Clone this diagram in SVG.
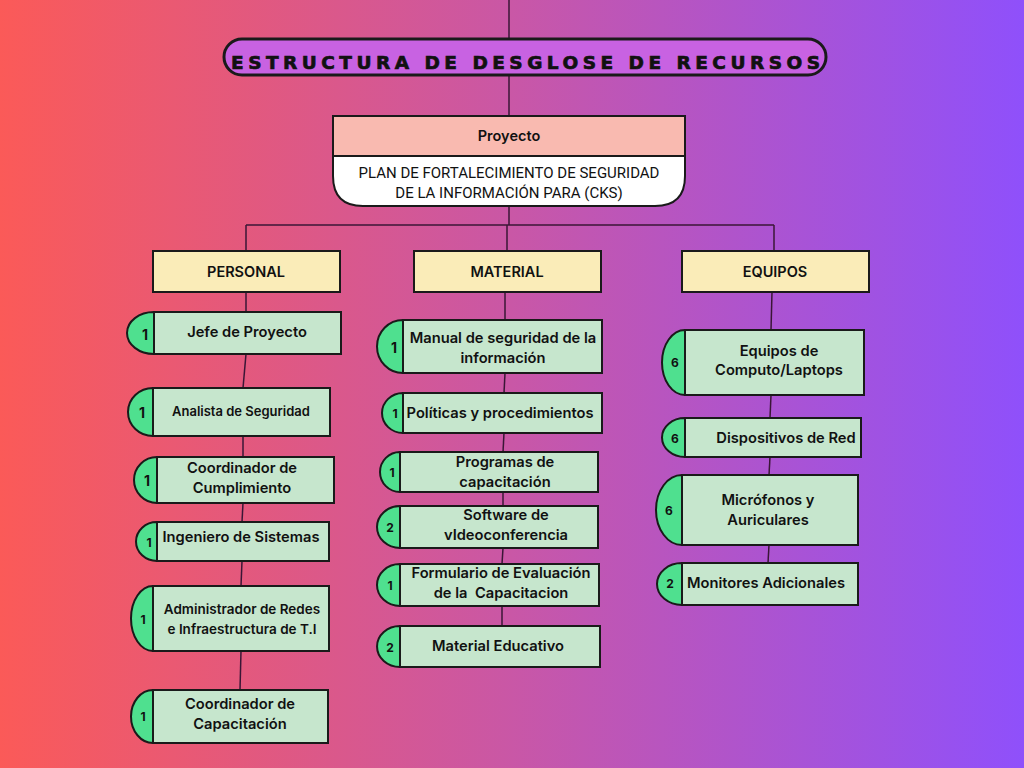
<svg xmlns="http://www.w3.org/2000/svg" width="1024" height="768" viewBox="0 0 1024 768">
  <defs>
    <linearGradient id="bg" x1="0" y1="0" x2="1" y2="0">
      <stop offset="0" stop-color="#fb5a58"/>
      <stop offset="0.5" stop-color="#c957a6"/>
      <stop offset="1" stop-color="#8f50fb"/>
    </linearGradient>
    <style>
      .ln { stroke: #3a1636; stroke-width: 1.5; fill: none; }
      .cat { fill: #faecb8; stroke: #1a1a1a; stroke-width: 2; }
      .item { fill: #c6e6cd; stroke: #1a1a1a; stroke-width: 2; }
      .tab { fill: #4fe08f; stroke: #1a1a1a; stroke-width: 2; }
      .t { font-family: Inter, "Liberation Sans", sans-serif; font-weight: 600; font-size: 14.7px; fill: #111; text-anchor: middle; dominant-baseline: central; }
      .n { font-family: Inter, "Liberation Sans", sans-serif; font-weight: 700; font-size: 14px; fill: #111; text-anchor: middle; dominant-baseline: central; }
      .cap { font-family: Inter, "Liberation Sans", sans-serif; font-weight: 600; font-size: 14.5px; fill: #111; text-anchor: middle; dominant-baseline: central; }
      .plan { font-family: Roboto, "Liberation Sans", sans-serif; font-size: 15px; fill: #111; text-anchor: middle; dominant-baseline: central; }
    </style>
  </defs>

  <rect x="0" y="0" width="1024" height="768" fill="url(#bg)"/>

  <!-- connectors -->
  <g id="connectors" class="ln">
    <line x1="509" y1="0" x2="509" y2="116"/>
    <line x1="509" y1="206" x2="509" y2="225"/>
    <line x1="246" y1="225" x2="774" y2="225"/>
    <line x1="246" y1="225" x2="246" y2="251"/>
    <line x1="507" y1="225" x2="507" y2="251"/>
    <line x1="774" y1="225" x2="774" y2="251"/>
    <!-- personal column -->
    <line x1="246" y1="292" x2="246" y2="312"/>
    <line x1="246" y1="354" x2="243" y2="388"/>
    <line x1="243" y1="436" x2="243" y2="457"/>
    <line x1="243" y1="503" x2="242" y2="522"/>
    <line x1="242" y1="561" x2="241" y2="586"/>
    <line x1="241" y1="651" x2="240" y2="690"/>
    <!-- material column -->
    <line x1="505" y1="292" x2="505" y2="320"/>
    <line x1="505" y1="373" x2="504" y2="393"/>
    <line x1="504" y1="433" x2="503" y2="452"/>
    <line x1="503" y1="492" x2="503" y2="506"/>
    <line x1="503" y1="548" x2="502" y2="564"/>
    <line x1="502" y1="606" x2="502" y2="626"/>
    <!-- equipos column -->
    <line x1="772" y1="292" x2="771" y2="330"/>
    <line x1="771" y1="395" x2="770" y2="418"/>
    <line x1="770" y1="457" x2="769" y2="475"/>
    <line x1="769" y1="545" x2="768" y2="563"/>
  </g>

  <!-- title -->
  <g id="title">
    <rect x="224" y="39" width="602" height="36" rx="18" fill="#c862e2" stroke="#1a1a1a" stroke-width="3"/>
    <text x="231" y="62" textLength="589" lengthAdjust="spacing" font-family="'DejaVu Sans', 'Liberation Sans', sans-serif" font-weight="900" font-size="18.5" fill="#111" stroke="#111" stroke-width="0.7" dominant-baseline="central">ESTRUCTURA DE DESGLOSE DE RECURSOS</text>
  </g>

  <!-- project -->
  <g id="proyecto">
    <path d="M333,156 L685,156 L685,176 Q685,206 655,206 L363,206 Q333,206 333,176 Z" fill="#ffffff" stroke="#1a1a1a" stroke-width="2"/>
    <rect x="333" y="116" width="352" height="40" fill="#f9bab0" stroke="#1a1a1a" stroke-width="2"/>
    <text class="cap" x="509" y="135">Proyecto</text>
    <text class="plan" x="509" y="173">PLAN DE FORTALECIMIENTO DE SEGURIDAD</text>
    <text class="plan" x="509" y="193">DE LA INFORMACIÓN PARA (CKS)</text>
  </g>

  <!-- categories -->
  <g id="cat-personal">
    <rect class="cat" x="153" y="251" width="187" height="41"/>
    <text class="cap" x="246" y="271">PERSONAL</text>
  </g>
  <g id="cat-material">
    <rect class="cat" x="414" y="251" width="187" height="41"/>
    <text class="cap" x="507" y="271">MATERIAL</text>
  </g>
  <g id="cat-equipos">
    <rect class="cat" x="682" y="251" width="187" height="41"/>
    <text class="cap" x="775" y="271">EQUIPOS</text>
  </g>

  <!-- personal items -->
  <g id="p1">
    <path class="tab" d="M154,312 A27,21 0 0 0 154,354 Z"/>
    <rect class="item" x="154" y="312" width="187" height="42"/>
    <text class="n" x="145" y="334">1</text>
    <text class="t" x="247" y="332">Jefe de Proyecto</text>
  </g>
  <g id="p2">
    <path class="tab" d="M153,388 A25,24 0 0 0 153,436 Z"/>
    <rect class="item" x="153" y="388" width="177" height="48"/>
    <text class="n" x="142" y="412">1</text>
    <text class="t" x="241" y="411" style="font-size:13px">Analista de Seguridad</text>
  </g>
  <g id="p3">
    <path class="tab" d="M157,457 A23,23 0 0 0 157,503 Z"/>
    <rect class="item" x="157" y="457" width="177" height="46"/>
    <text class="n" x="147" y="480">1</text>
    <text class="t" x="242" y="468">Coordinador de</text>
    <text class="t" x="242" y="488">Cumplimiento</text>
  </g>
  <g id="p4">
    <path class="tab" d="M157,522 A21,19.5 0 0 0 157,561 Z"/>
    <rect class="item" x="157" y="522" width="172" height="39"/>
    <text class="n" x="149" y="542" style="font-size:12px">1</text>
    <text class="t" x="241" y="537">Ingeniero de Sistemas</text>
  </g>
  <g id="p5">
    <path class="tab" d="M153,586 A22,32.5 0 0 0 153,651 Z"/>
    <rect class="item" x="153" y="586" width="176" height="65"/>
    <text class="n" x="143" y="619" style="font-size:12px">1</text>
    <text class="t" x="242" y="609" style="font-size:13.5px">Administrador de Redes</text>
    <text class="t" x="242" y="629" style="font-size:13.5px">e Infraestructura de T.I</text>
  </g>
  <g id="p6">
    <path class="tab" d="M153,690 A22,26.5 0 0 0 153,743 Z"/>
    <rect class="item" x="153" y="690" width="175" height="53"/>
    <text class="n" x="143" y="716" style="font-size:12px">1</text>
    <text class="t" x="240" y="704">Coordinador de</text>
    <text class="t" x="240" y="724">Capacitación</text>
  </g>

  <!-- material items -->
  <g id="m1">
    <path class="tab" d="M403,320 A26,26.5 0 0 0 403,373 Z"/>
    <rect class="item" x="403" y="320" width="199" height="53"/>
    <text class="n" x="394" y="347">1</text>
    <text class="t" x="503" y="338">Manual de seguridad de la</text>
    <text class="t" x="503" y="358">información</text>
  </g>
  <g id="m2">
    <path class="tab" d="M403,393 A21,20 0 0 0 403,433 Z"/>
    <rect class="item" x="403" y="393" width="199" height="40"/>
    <text class="n" x="395" y="413" style="font-size:12px">1</text>
    <text class="t" x="500" y="413">Políticas y procedimientos</text>
  </g>
  <g id="m3">
    <path class="tab" d="M400,452 A20,20 0 0 0 400,492 Z"/>
    <rect class="item" x="400" y="452" width="198" height="40"/>
    <text class="n" x="392" y="472" style="font-size:12px">1</text>
    <text class="t" x="505" y="462">Programas de</text>
    <text class="t" x="505" y="482">capacitación</text>
  </g>
  <g id="m4">
    <path class="tab" d="M400,506 A23,21 0 0 0 400,548 Z"/>
    <rect class="item" x="400" y="506" width="198" height="42"/>
    <text class="n" x="390" y="527" style="font-size:12px">2</text>
    <text class="t" x="506" y="515">Software de</text>
    <text class="t" x="506" y="535">vIdeoconferencia</text>
  </g>
  <g id="m5">
    <path class="tab" d="M400,564 A23,21 0 0 0 400,606 Z"/>
    <rect class="item" x="400" y="564" width="199" height="42"/>
    <text class="n" x="390" y="585" style="font-size:12px">1</text>
    <text class="t" x="501" y="573">Formulario de Evaluación</text>
    <text class="t" x="501" y="593" xml:space="preserve">de la  Capacitacion</text>
  </g>
  <g id="m6">
    <path class="tab" d="M400,626 A23,20.5 0 0 0 400,667 Z"/>
    <rect class="item" x="400" y="626" width="200" height="41"/>
    <text class="n" x="390" y="647" style="font-size:12px">2</text>
    <text class="t" x="498" y="646">Material Educativo</text>
  </g>

  <!-- equipos items -->
  <g id="e1">
    <path class="tab" d="M685,330 A23,32.5 0 0 0 685,395 Z"/>
    <rect class="item" x="685" y="330" width="179" height="65"/>
    <text class="n" x="675" y="362" style="font-size:12px">6</text>
    <text class="t" x="779" y="351">Equipos de</text>
    <text class="t" x="779" y="370">Computo/Laptops</text>
  </g>
  <g id="e2">
    <path class="tab" d="M685,418 A23,19.5 0 0 0 685,457 Z"/>
    <rect class="item" x="685" y="418" width="176" height="39"/>
    <text class="n" x="675" y="438" style="font-size:12px">6</text>
    <text class="t" x="786" y="438">Dispositivos de Red</text>
  </g>
  <g id="e3">
    <path class="tab" d="M682,475 A26,35 0 0 0 682,545 Z"/>
    <rect class="item" x="682" y="475" width="176" height="70"/>
    <text class="n" x="669" y="510" style="font-size:12px">6</text>
    <text class="t" x="768" y="500">Micrófonos y</text>
    <text class="t" x="768" y="520">Auriculares</text>
  </g>
  <g id="e4">
    <path class="tab" d="M682,563 A25,21 0 0 0 682,605 Z"/>
    <rect class="item" x="682" y="563" width="176" height="42"/>
    <text class="n" x="670" y="583" style="font-size:12px">2</text>
    <text class="t" x="766" y="583">Monitores Adicionales</text>
  </g>
</svg>
